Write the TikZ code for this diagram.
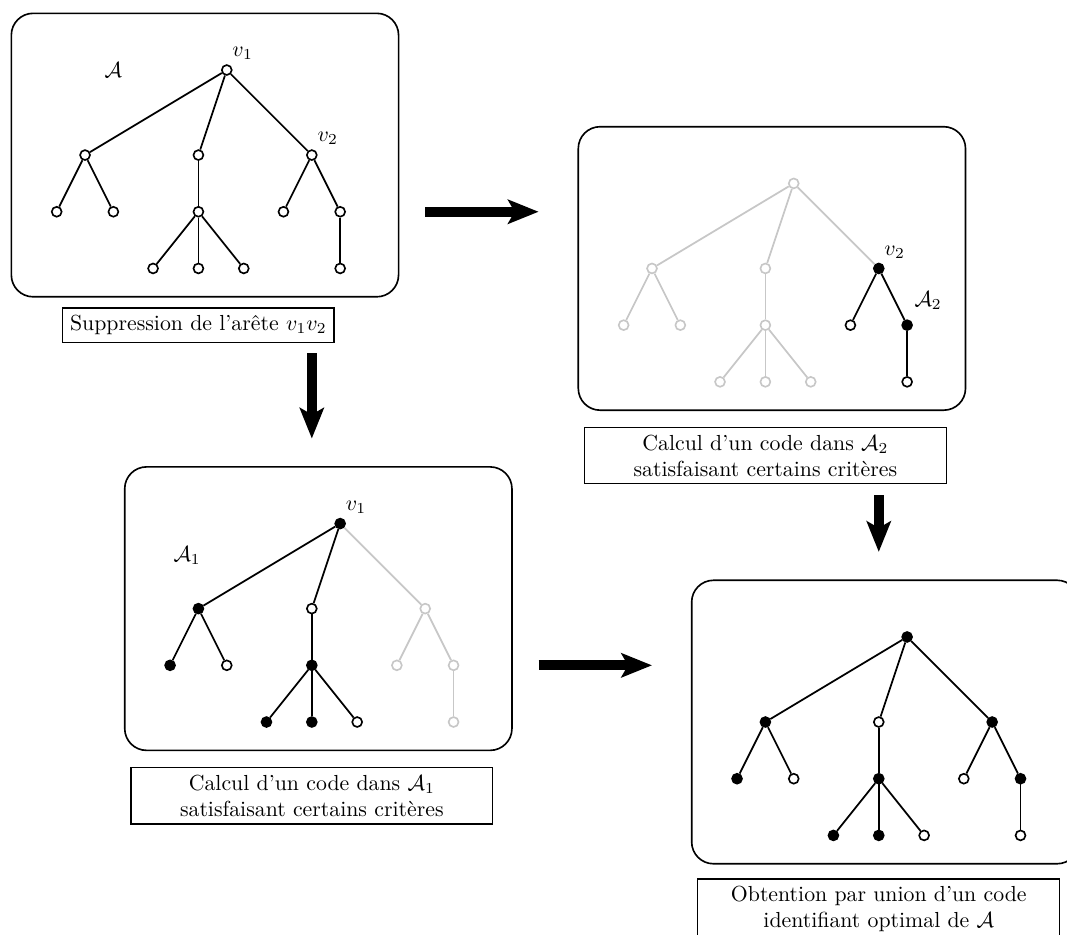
\documentclass[tikz,border=0pt]{standalone}
\usepackage{amsmath}
\usepackage{tikz}
\usetikzlibrary{arrows.meta, positioning}
\tikzset{>=stealth}
\tikzset{
  blanc/.style={circle, draw, fill=white, inner sep=0pt, minimum size=1.6mm, line width=0.75pt},
  noir/.style={blanc, fill=black},
  pale/.style={blanc, draw=black!22},
  arete/.style={line width=0.8pt},
  aretepale/.style={arete, draw=black!22},
  cadre/.style={draw, rounded corners=10pt, line width=0.75pt},
  legende/.style={draw, fill=white, line width=0.6pt},
  legende2/.style={legende, text width=5.6cm, align=center},
  fleche/.style={line width=4.5pt, -{Stealth[length=14pt,width=11pt,inset=3pt]}}
}
% positions des sommets d'un arbre
\newcommand{\sommets}[1]{%
  \foreach \n/\x/\y in {r/0/0, a/-2.5/-1.5, b/-0.5/-1.5, c/1.5/-1.5,
      aG/-3/-2.5, aD/-2/-2.5, bM/-0.5/-2.5, bM1/-1.3/-3.5, bM2/-0.5/-3.5,
      bM3/0.3/-3.5, cG/1/-2.5, cD/2/-2.5, cDD/2/-3.5}
    \coordinate (#1\n) at (\x,\y);
}

\begin{document}
\begin{tikzpicture}[x=0.914cm, y=0.914cm]
\useasboundingbox (-4,1.235) rectangle (14.82,-15.256);

% arbre A
\begin{scope}
\draw[cadre] (-3.8,1) rectangle (3.03,-4);
\sommets{A}
\foreach \n in {r,a,b,c,aG,aD,bM,bM1,bM2,bM3,cG,cD,cDD}
  \node[blanc] (nA\n) at (A\n) {};
\foreach \u/\v in {r/a,r/b,r/c,a/aG,a/aD,b/bM,bM/bM1,bM/bM2,bM/bM3,c/cG,c/cD,cD/cDD}
  \draw[arete] (nA\u) -- (nA\v);
\node (lA1) at (0.28,0.29) {$v_1$};
\node (lA2) at (1.78,-1.21) {$v_2$};
\node (lA) at (-2,0) {$\mathcal{A}$};
\node[legende] (tA) at (-0.5,-4.5) {Suppression de l'arête $v_1v_2$};
\end{scope}

% arbre A2
\begin{scope}[shift={(10,-2)}]
\draw[cadre] (-3.8,1) rectangle (3.03,-4);
\sommets{B}
\foreach \n in {r,a,b,aG,aD,bM,bM1,bM2,bM3}
  \node[pale] (nB\n) at (B\n) {};
\foreach \n in {c,cD}
  \node[noir] (nB\n) at (B\n) {};
\foreach \n in {cG,cDD}
  \node[blanc] (nB\n) at (B\n) {};
\foreach \u/\v in {r/a,r/b,r/c,a/aG,a/aD,b/bM,bM/bM1,bM/bM2,bM/bM3}
  \draw[aretepale] (nB\u) -- (nB\v);
\foreach \u/\v in {c/cG,c/cD,cD/cDD}
  \draw[arete] (nB\u) -- (nB\v);
\node (lB2) at (1.78,-1.21) {$v_2$};
\node (lB) at (2.37,-2.06) {$\mathcal{A}_2$};
\node[legende2] (tB) at (-0.5,-4.8) {Calcul d'un code dans $\mathcal{A}_2$\\ satisfaisant certains critères};
\end{scope}

% arbre A1
\begin{scope}[shift={(2,-8)}]
\draw[cadre] (-3.8,1) rectangle (3.03,-4);
\sommets{C}
\foreach \n in {c,cG,cD,cDD}
  \node[pale] (nC\n) at (C\n) {};
\foreach \n in {r,a,aG,bM,bM1,bM2}
  \node[noir] (nC\n) at (C\n) {};
\foreach \n in {aD,b,bM3}
  \node[blanc] (nC\n) at (C\n) {};
\foreach \u/\v in {r/c,c/cG,c/cD,cD/cDD}
  \draw[aretepale] (nC\u) -- (nC\v);
\foreach \u/\v in {r/a,r/b,a/aG,a/aD,b/bM,bM/bM1,bM/bM2,bM/bM3}
  \draw[arete] (nC\u) -- (nC\v);
\node (lC1) at (0.28,0.29) {$v_1$};
\node (lC) at (-2.7,-0.56) {$\mathcal{A}_1$};
\node[legende2] (tC) at (-0.5,-4.8) {Calcul d'un code dans $\mathcal{A}_1$\\ satisfaisant certains critères};
\end{scope}

% union
\begin{scope}[shift={(12,-10)}]
\draw[cadre] (-3.8,1) rectangle (3.03,-4);
\sommets{D}
\foreach \n in {r,a,aG,bM,bM1,bM2,c,cD}
  \node[noir] (nD\n) at (D\n) {};
\foreach \n in {aD,b,bM3,cG,cDD}
  \node[blanc] (nD\n) at (D\n) {};
\foreach \u/\v in {r/a,r/b,r/c,a/aG,a/aD,b/bM,bM/bM1,bM/bM2,bM/bM3,c/cG,c/cD,cD/cDD}
  \draw[arete] (nD\u) -- (nD\v);
\node[legende2] (tD) at (-0.5,-4.8) {Obtention par union d'un code\\ identifiant optimal de $\mathcal{A}$};
\end{scope}

% fleches
\coordinate (f1a) at (3.5,-2.5);
\coordinate (f1b) at (5.5,-2.5);
\coordinate (f2a) at (1.5,-5);
\coordinate (f2b) at (1.5,-6.5);
\coordinate (f3a) at (5.5,-10.5);
\coordinate (f3b) at (7.5,-10.5);
\coordinate (f4a) at (11.5,-7.5);
\coordinate (f4b) at (11.5,-8.5);
\draw[fleche] (f1a) -- (f1b);
\draw[fleche] (f2a) -- (f2b);
\draw[fleche] (f3a) -- (f3b);
\draw[fleche] (f4a) -- (f4b);
\end{tikzpicture}
\end{document}
